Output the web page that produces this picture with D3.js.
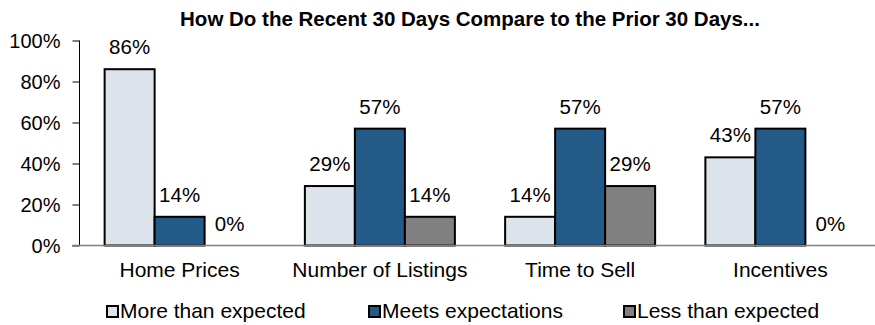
<!DOCTYPE html>
<html>
<head>
<meta charset="utf-8">
<script src="https://cdn.jsdelivr.net/npm/d3@7"></script>
<style>
  body { margin: 0; background: #fff; }
  text { font-family: "Liberation Sans", Arial, sans-serif; fill: #000; }
</style>
</head>
<body>
<script>
// chart data
var categories = ["Home Prices", "Number of Listings", "Time to Sell", "Incentives"];
var seriesNames = ["More than expected", "Meets expectations", "Less than expected"];
var moreThan = [86, 29, 14, 43];
var meets = [14, 57, 57, 57];
var lessThan = [0, 14, 29, 0];
var yTicks = [0, 20, 40, 60, 80, 100];
var colors = ["#dce3eb", "#245a87", "#808080"];

var svgWidth = 875;
var svgHeight = 325;

var svg = d3.select("body")
  .append("svg")
  .attr("width", svgWidth)
  .attr("height", svgHeight);

var seriesValues = [moreThan, meets, lessThan];

// build rows for the bars
var rows = [];
categories.forEach(function (c, i) {
  seriesValues.forEach(function (vals, s) {
    rows.push({ cat: c, series: s, value: vals[i] });
  });
});

var xScale = d3.scaleBand()
  .domain(categories)
  .range([79.5, 880.5]);

// group of 3 bars, 150px wide, centered in each band
var innerScale = d3.scaleBand()
  .domain([0, 1, 2])
  .range([(xScale.bandwidth() - 150) / 2, (xScale.bandwidth() + 150) / 2]);

var yScale = d3.scaleLinear()
  .domain([0, 100])
  .range([245.5, 40.5]);

// title
svg.append("text")
  .attr("x", 470)
  .attr("y", 25.5)
  .attr("text-anchor", "middle")
  .style("font-size", "20.5px")
  .style("font-weight", "bold")
  .text("How Do the Recent 30 Days Compare to the Prior 30 Days...");

// y axis
var leftAxis = d3.axisLeft(yScale)
  .tickValues(yTicks)
  .tickFormat(d => d + "%")
  .tickSize(7)
  .tickPadding(12);

var yAxisG = svg.append("g")
  .attr("transform", "translate(79.5,0)")
  .call(leftAxis);
yAxisG.select(".domain").attr("stroke", "#000").attr("d", "M0,40.5V245.5");
yAxisG.selectAll(".tick line").attr("stroke", "#000");
yAxisG.selectAll(".tick text")
  .style("font-size", "20px")
  .attr("font-family", null)
  .attr("dy", "0.36em");

// bars
svg.append("g").selectAll("rect")
  .data(rows)
  .enter()
  .append("rect")
  .attr("x", d => xScale(d.cat) + innerScale(d.series))
  .attr("y", d => yScale(d.value))
  .attr("width", innerScale.bandwidth())
  .attr("height", d => yScale(0) - yScale(d.value))
  .attr("fill", d => colors[d.series])
  .attr("stroke", "#000")
  .attr("stroke-width", d => d.value > 0 ? 2 : 0);

// baseline
svg.append("line")
  .attr("x1", 72)
  .attr("x2", 875)
  .attr("y1", yScale(0))
  .attr("y2", yScale(0))
  .attr("stroke", "#808080")
  .attr("stroke-width", 1.5);

// value labels
svg.append("g").selectAll("text")
  .data(rows)
  .enter()
  .append("text")
  .attr("x", d => xScale(d.cat) + innerScale(d.series) + innerScale.bandwidth() / 2)
  .attr("y", d => yScale(d.value) - 15)
  .attr("text-anchor", "middle")
  .style("font-size", "20.5px")
  .text(d => d.value + "%");

// category labels
svg.append("g").selectAll("text")
  .data(categories)
  .enter()
  .append("text")
  .attr("x", d => xScale(d) + xScale.bandwidth() / 2)
  .attr("y", 277)
  .attr("text-anchor", "middle")
  .style("font-size", "21px")
  .text(d => d);

// legend
var legendX = [106, 368, 623];
var legend = svg.append("g").selectAll("g")
  .data(seriesNames)
  .enter()
  .append("g")
  .attr("transform", (d, i) => `translate(${legendX[i]}, 305)`);

legend.append("rect")
  .attr("x", 1)
  .attr("y", 1)
  .attr("width", 11)
  .attr("height", 11)
  .attr("fill", (d, i) => colors[i])
  .attr("stroke", "#000")
  .attr("stroke-width", 2);

legend.append("text")
  .attr("x", 14)
  .attr("y", 13)
  .style("font-size", "21px")
  .text(d => d);
</script>
</body>
</html>
